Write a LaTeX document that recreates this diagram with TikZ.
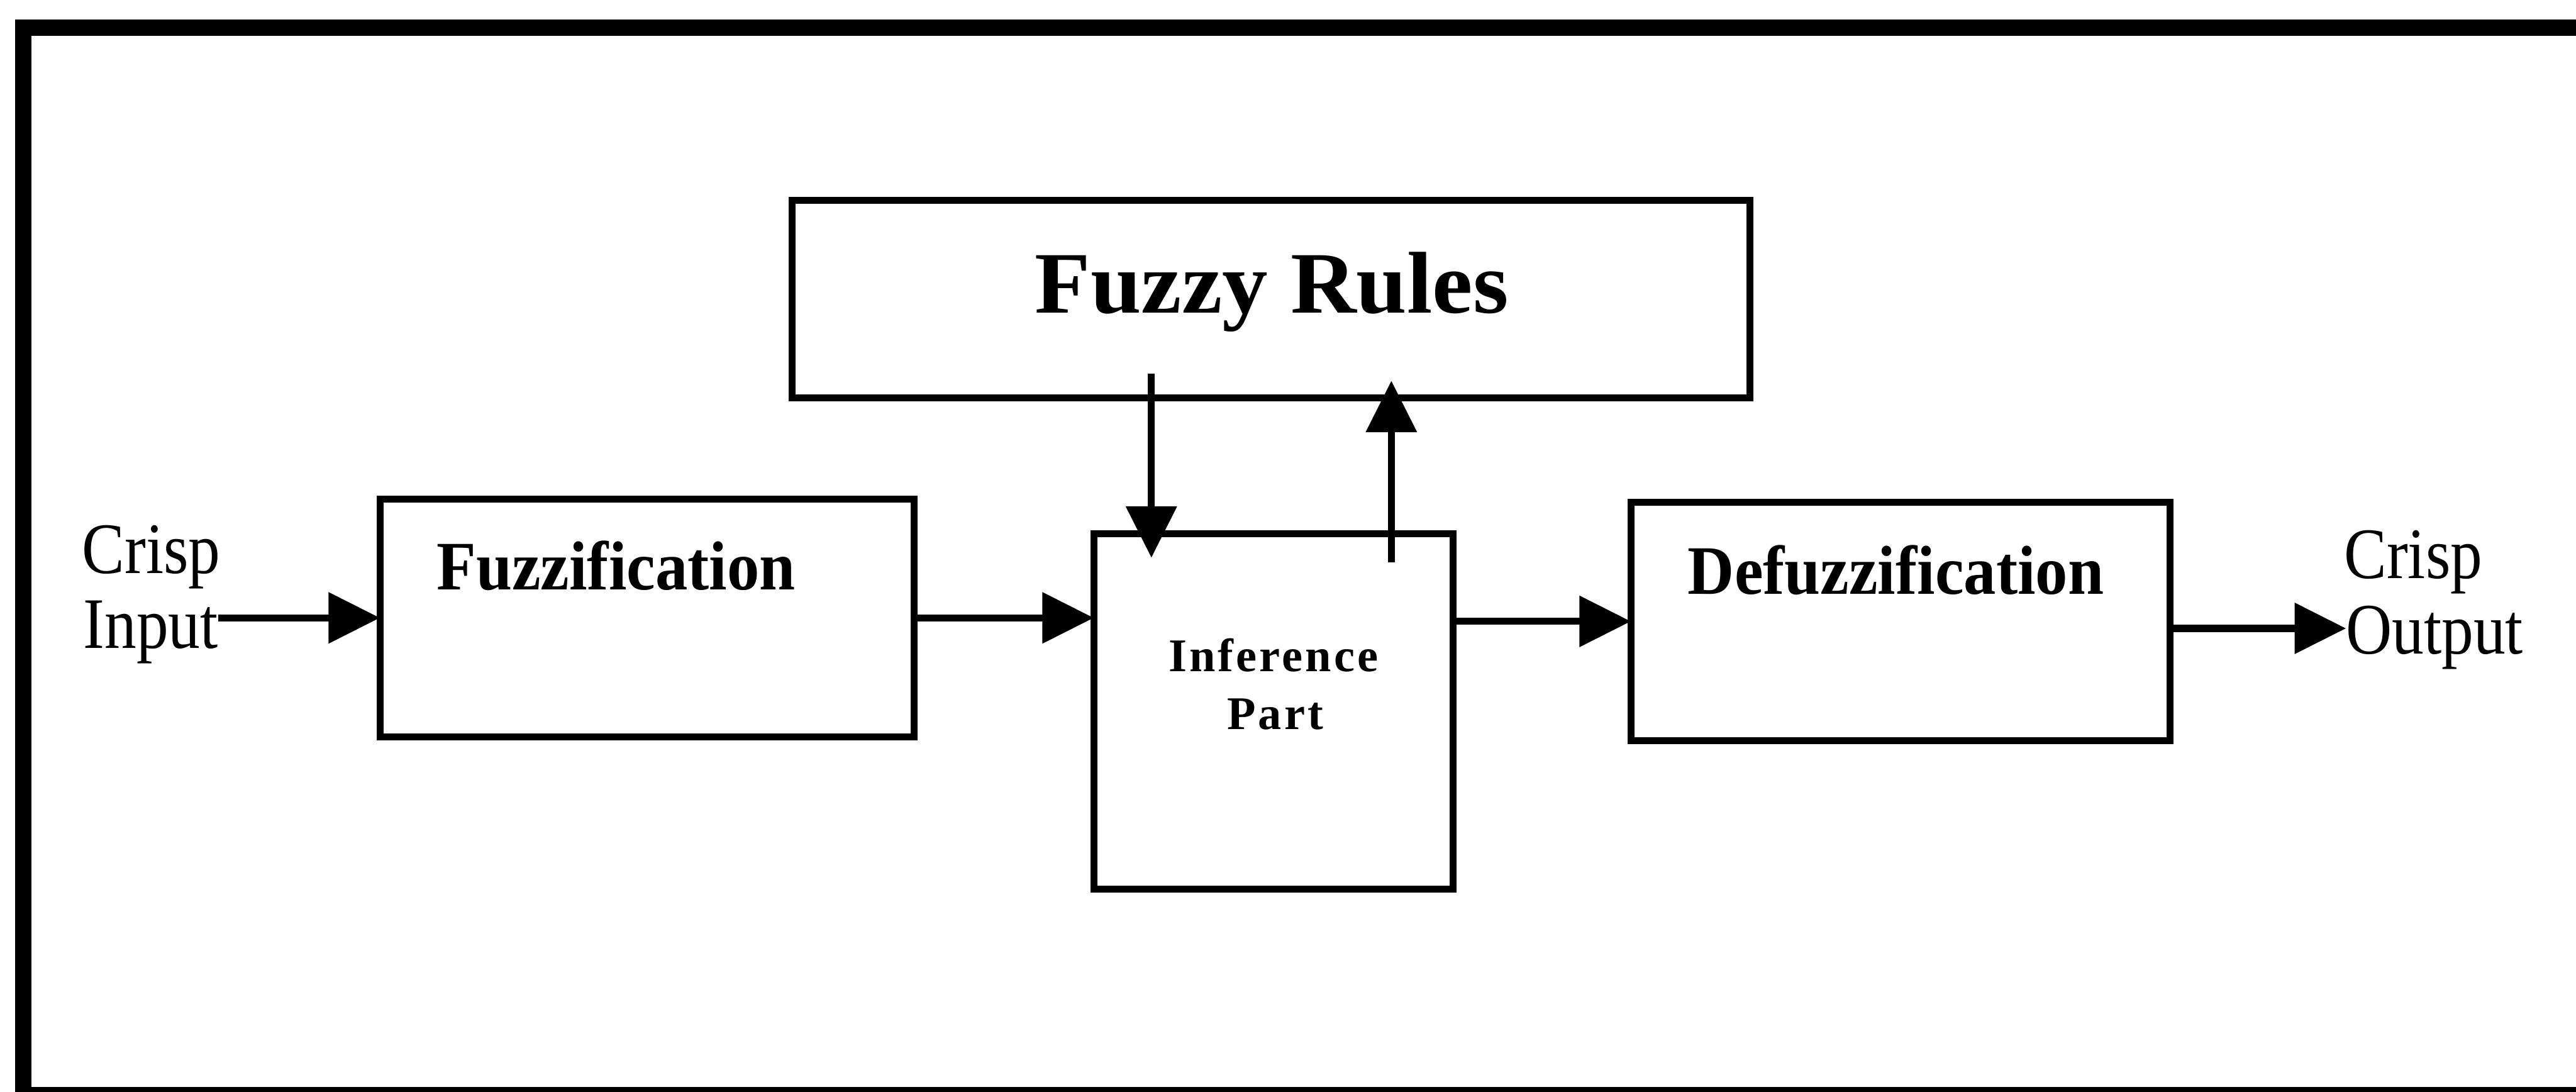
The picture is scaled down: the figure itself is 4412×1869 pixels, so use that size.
\documentclass[tikz,border=0pt]{standalone}
\usepackage{fontspec}
\usetikzlibrary{arrows.meta}
\setmainfont{Liberation Serif}
\newfontfamily\lblfont[FakeStretch=0.88]{Liberation Serif}
\newfontfamily\boxfont[FakeStretch=0.93]{Liberation Serif Bold}
\newfontfamily\rulefont[FakeStretch=1.04]{Liberation Serif Bold}
\newfontfamily\inffont[LetterSpace=5.5]{Liberation Serif Bold}
\tikzset{
  block/.style={draw, line width=0.12cm, inner sep=0pt, outer sep=0pt},
  lbl/.style={inner sep=0pt, outer sep=0pt, font=\lblfont\fontsize{35.3}{40}\selectfont},
  blocktext/.style={inner sep=0pt, outer sep=0pt, font=\boxfont\fontsize{33.8}{40}\selectfont},
  arr/.style={line width=0.12cm, -{Triangle[length=0.88cm,width=0.85cm]}},
}
\begin{document}
\begin{tikzpicture}[x=0.01cm, y=-0.01cm]
  \useasboundingbox (0,0) rectangle (4412,1869);
  \clip (0,0) rectangle (4412,1869);
  \fill[white] (0,0) rectangle (4412,1869);

  % outer frame (right side runs past the page edge)
  \draw[line width=0.28cm] (4450,47) -- (40,47) -- (40,1875) -- (4450,1875);

  % blocks
  \node[block, minimum width=16.40cm, minimum height=3.38cm] (rules) at (2177,512) {};
  \node[block, minimum width=9.14cm, minimum height=4.07cm] (fuzz) at (1108,1058) {};
  \node[block, minimum width=6.15cm, minimum height=6.08cm] (inf) at (2181,1218) {};
  \node[block, minimum width=9.23cm, minimum height=4.08cm] (defz) at (3255,1064) {};

  % block titles
  \node[inner sep=0pt, anchor=base, font=\rulefont\fontsize{42.7}{48}\selectfont] (rulesT) at (2178,536) {Fuzzy Rules};
  \node[blocktext, anchor=base west] (fuzzT) at (748,1010) {Fuzzification};
  \node[blocktext, anchor=base west] (defzT) at (2891,1017) {Defuzzification};
  \node[inner sep=0pt, anchor=base, font=\inffont\fontsize{22.8}{26}\selectfont] (infA) at (2181,1150) {Inference};
  \node[inner sep=0pt, anchor=base, font=\inffont\fontsize{22.8}{26}\selectfont] (infB) at (2184,1249) {Part};

  % input / output labels
  \node[lbl, anchor=base west] (cin1) at (141,982) {Crisp};
  \node[lbl, anchor=base west] (cin2) at (143,1110) {Input};
  \node[lbl, anchor=base west] (cout1) at (4015,990) {Crisp};
  \node[lbl, anchor=base west] (cout2) at (4018,1120) {Output};

  % signal flow
  \draw[arr] (cin2.east |- fuzz.west) -- (fuzz.west);
  \draw[arr] (fuzz.east) -- (fuzz.east -| inf.west);
  \draw[arr] (defz.west -| inf.east) -- (defz.west);
  \draw[arr] ([yshift=-0.12cm]defz.east) -- ([yshift=-0.12cm]defz.east -| cout2.west);

  % exchange between the rule base and the inference part
  \coordinate (dnS) at (1972,640);
  \coordinate (dnE) at (1972,955);
  \coordinate (upS) at (2383,963);
  \coordinate (upE) at (2383,652);
  \draw[arr] (dnS) -- (dnE);
  \draw[arr] (upS) -- (upE);
\end{tikzpicture}
\end{document}
